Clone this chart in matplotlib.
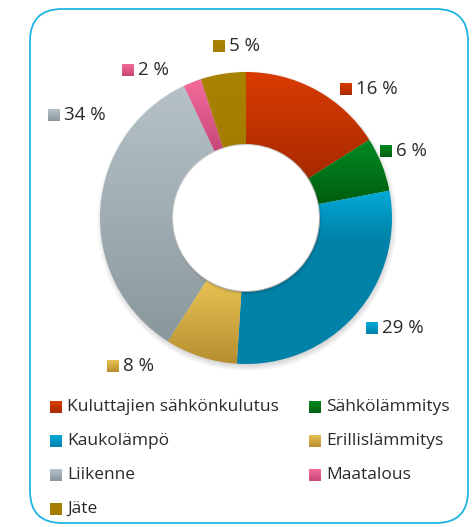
import numpy as np
import matplotlib.pyplot as plt
from matplotlib.colors import LinearSegmentedColormap
from matplotlib.patches import FancyBboxPatch, Circle

# Kasvihuonepäästöjen jakauma sektoreittain
sectors = ['Kuluttajien sähkönkulutus', 'Sähkölämmitys', 'Kaukolämpö',
           'Erillislämmitys', 'Liikenne', 'Maatalous', 'Jäte']
shares = [16, 6, 29, 8, 34, 2, 5]
share_labels = ['16 %', '6 %', '29 %', '8 %', '34 %', '2 %', '5 %']

# väriliu'ut: ylä- ja alasävy
top_colors = ['#DA3C02', '#008A22', '#00AAD8', '#E8C254', '#B6C2C8', '#F46C9C', '#A98200']
bottom_colors = ['#A82A00', '#005E10', '#0082A8', '#B68E30', '#8A989E', '#C64878', '#A47C00']
# kohta, josta alasävy alkaa (0 = lineaarinen liuku)
fade = [0.0, 0.0, 0.72, 0.0, 0.0, 0.0, 0.0]

W, H = 475, 527
fig = plt.figure(figsize=(W / 100, H / 100), dpi=100)
ax = fig.add_axes([0, 0, 1, 1])
ax.set_xlim(0, W)
ax.set_ylim(0, H)
ax.set_aspect('equal')
ax.axis('off')

font = 'Open Sans'
txt = '#2A2A2A'

# kehys
frame = FancyBboxPatch((30, 4), 438, 514, boxstyle='round,pad=0,rounding_size=32',
                       fc='white', ec='#20B4E2', lw=1.3, zorder=0)
ax.add_patch(frame)

cx, cy, R, width = 246, H - 218, 146, 72

# varjo renkaan alla
for k in range(8):
    ax.add_patch(Circle((cx + 1, cy - 3), R + 4 - k, fc='black', ec='none',
                        alpha=0.025, zorder=1))

wedges, _ = ax.pie(shares, startangle=90, counterclock=False, radius=R,
                   center=(cx, cy), wedgeprops=dict(width=width, lw=0))

# sisäreiän varjo
for k in range(6):
    ax.add_patch(Circle((cx + 1, cy - 2), R - width + 1 - k * 0.6, fc='black', ec='none',
                        alpha=0.03, zorder=3))
ax.add_patch(Circle((cx, cy), R - width - 1, fc='white', ec='none', zorder=3))

grad = np.linspace(0, 1, 256).reshape(-1, 1)


def make_cmap(i):
    if fade[i] > 0:
        return LinearSegmentedColormap.from_list(
            'g', [(0, bottom_colors[i]), (fade[i], bottom_colors[i]), (1, top_colors[i])])
    return LinearSegmentedColormap.from_list('g', [bottom_colors[i], top_colors[i]])


for i, w in enumerate(wedges):
    ext = w.get_path().get_extents(w.get_transform()).transformed(ax.transData.inverted())
    im = ax.imshow(grad, cmap=make_cmap(i), origin='lower', aspect='auto',
                   extent=[ext.x0, ext.x1, ext.y0, ext.y1], zorder=2,
                   interpolation='bilinear')
    im.set_clip_path(w)
    w.set_visible(False)


def swatch(x, y, i, s=12):
    cmap = LinearSegmentedColormap.from_list('g', [bottom_colors[i], top_colors[i]])
    ax.imshow(grad, cmap=cmap, origin='lower', aspect='auto',
              extent=[x, x + s, H - y - s / 2, H - y + s / 2], zorder=4)


# prosenttimerkinnät
label_pos = [(340, 89), (380, 151), (366, 328), (107, 366), (48, 115), (122, 70), (213, 46)]
for i, (x, y) in enumerate(label_pos):
    swatch(x, y, i)
    ax.text(x + 16, H - y, share_labels[i], fontsize=13.5, family=font,
            color=txt, va='center', ha='left', zorder=5)

# selite kahdessa sarakkeessa
rows = [407, 441, 475, 509]
cols = [50, 309]
for i, name in enumerate(sectors):
    x = cols[i % 2]
    y = rows[i // 2]
    swatch(x, y, i)
    ax.text(x + 17, H - y, name, fontsize=12.5, family=font, color=txt,
            va='center', ha='left', zorder=5)

ax.set_xlim(0, W)
ax.set_ylim(0, H)
fig.savefig('out.png', dpi=100)
